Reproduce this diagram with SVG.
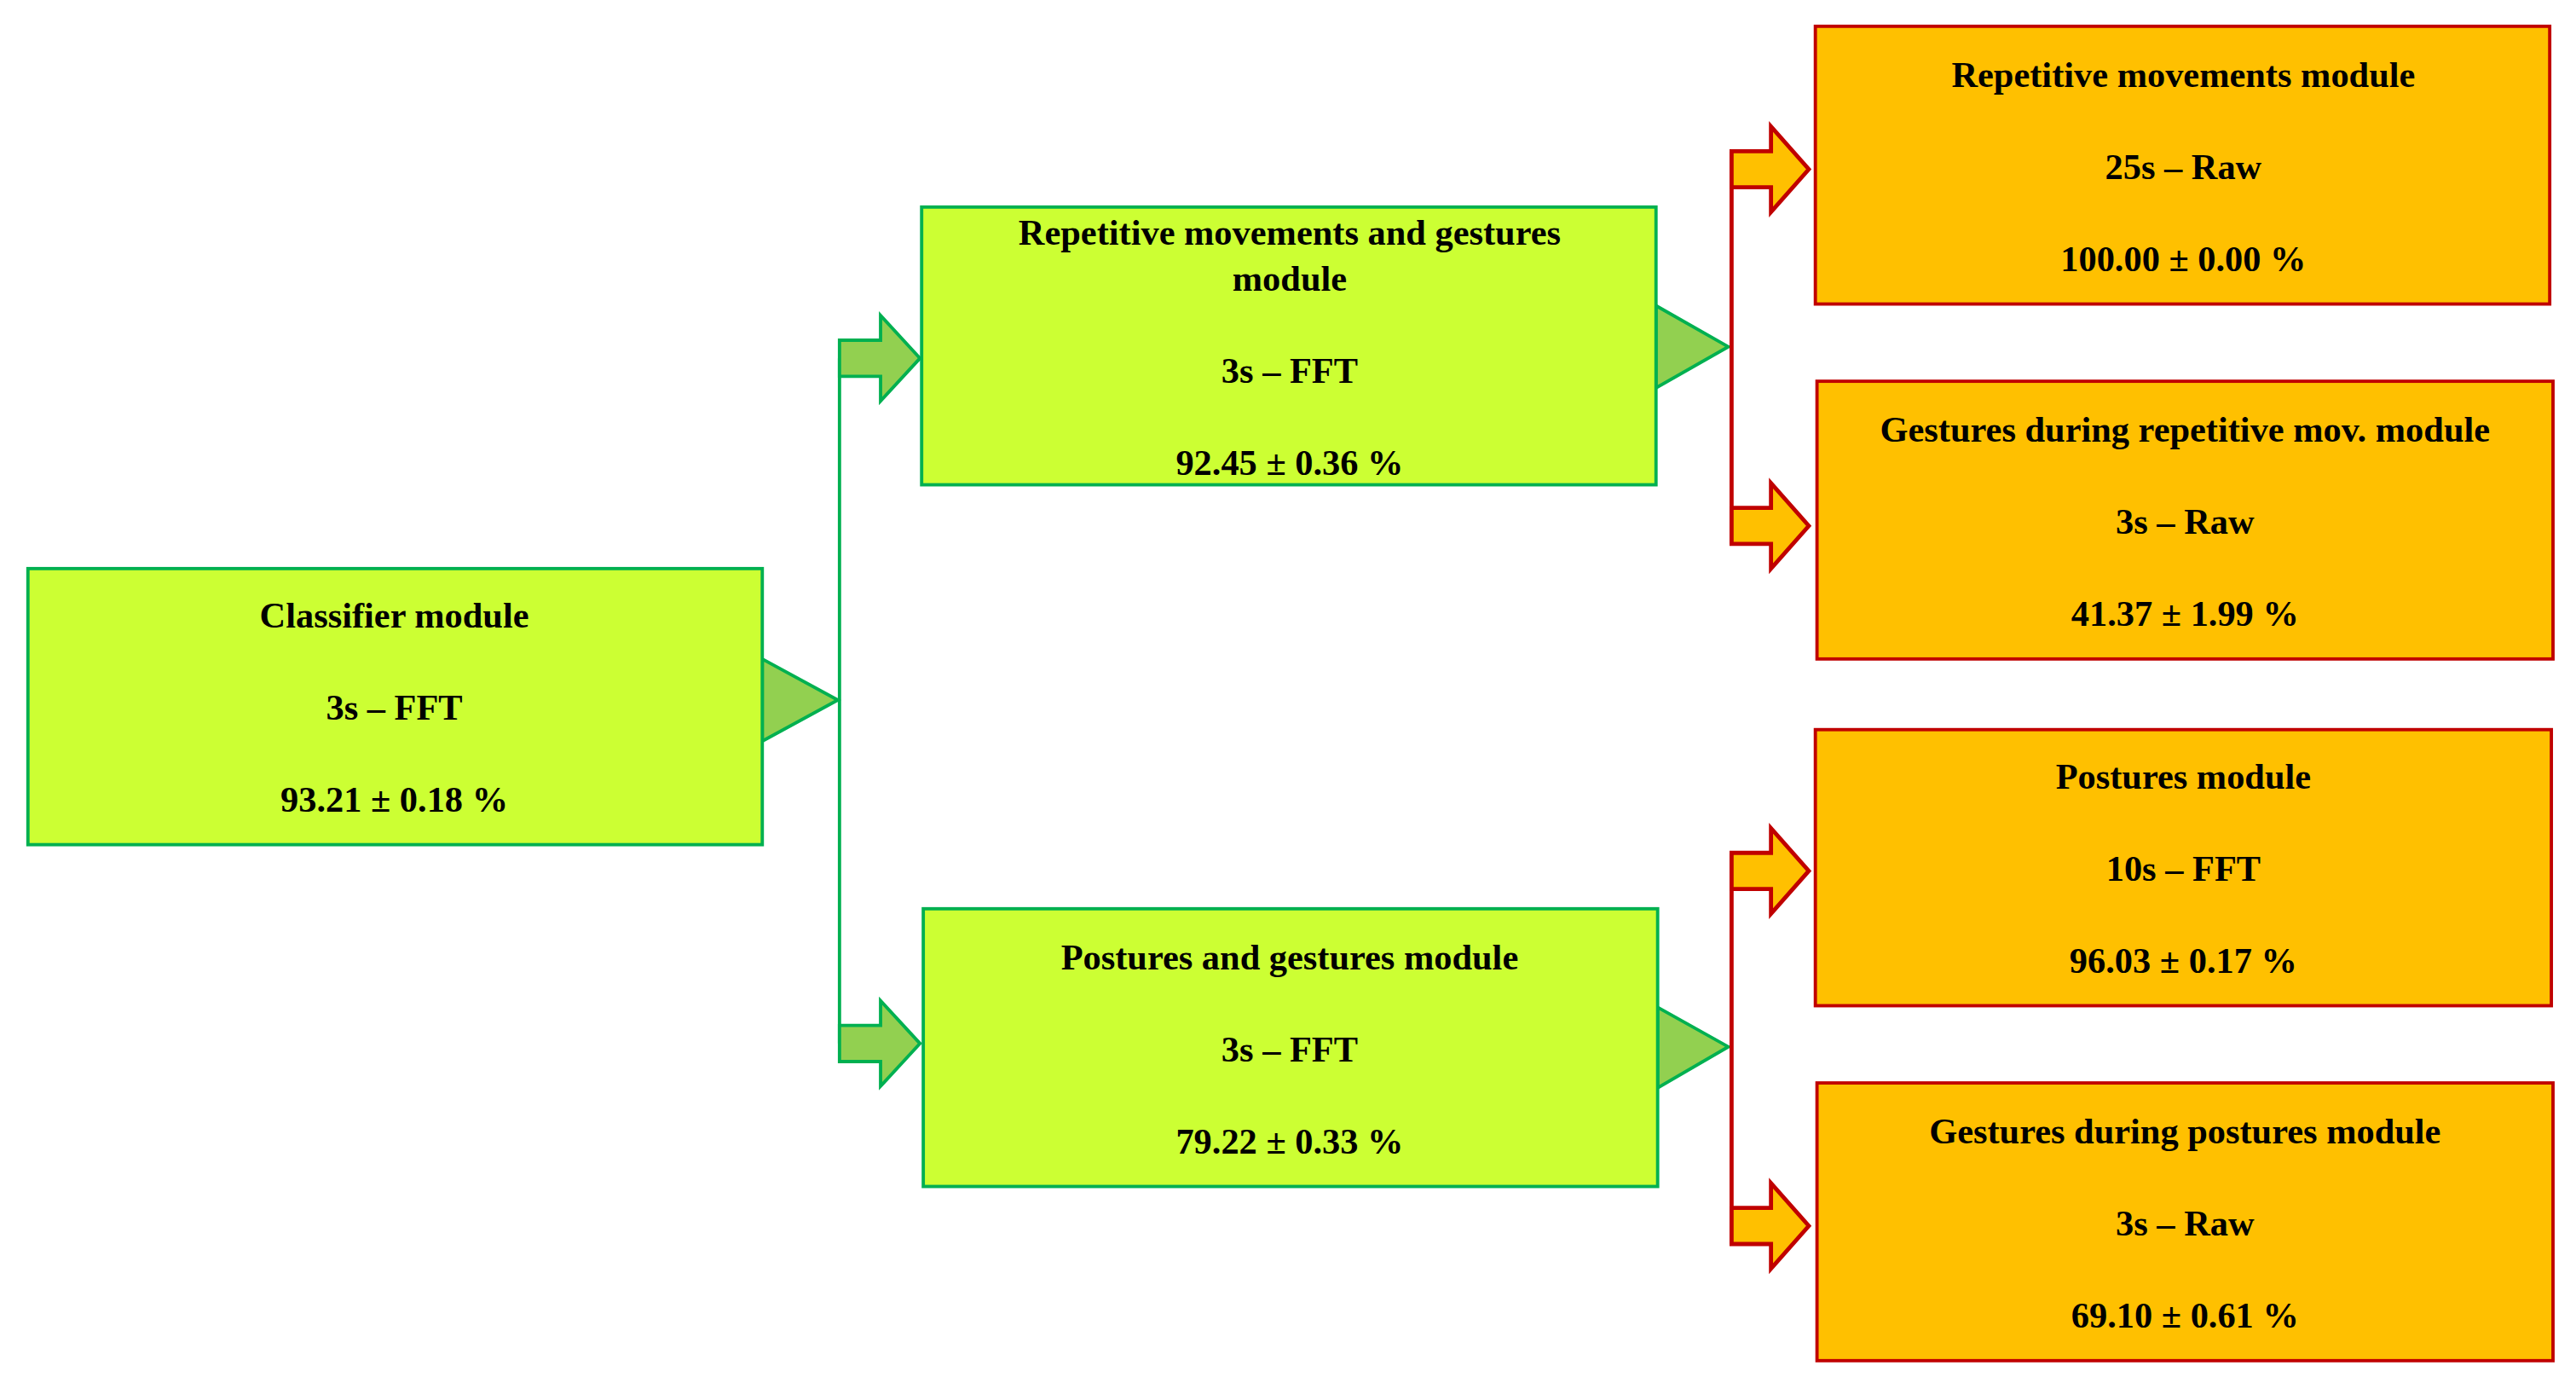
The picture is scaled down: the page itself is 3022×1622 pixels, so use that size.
<svg xmlns="http://www.w3.org/2000/svg" width="3022" height="1622" viewBox="0 0 3022 1622">
<style>
.g{fill:#CCFF33;stroke:#00B050;stroke-width:2}
.o{fill:#FFC000;stroke:#C00000;stroke-width:2}
.tri{fill:#92D050;stroke:#00B050;stroke-width:2}
.gl{fill:none;stroke:#00B050;stroke-width:2}
.ga{fill:#92D050;stroke:#00B050;stroke-width:2}
.rl{fill:none;stroke:#C00000;stroke-width:2.5}
.ra{fill:#FFC000;stroke:#C00000;stroke-width:2.5}
text{font-family:"Liberation Serif",serif;font-weight:bold;font-size:22px;fill:#000;text-anchor:middle}
</style>
<rect width="3022" height="1622" fill="#fff"/>
<g transform="scale(1.9273)">
<g id="connectors">
<path class="tri" d="M464,401 L510,426 L464,451 Z"/>
<path class="gl" d="M511,218 V635"/>
<path class="ga" d="M511,207 H536 V192 L560,218 L536,244 V229 H511 Z"/>
<path class="ga" d="M511,624 H536 V609 L560,635 L536,661 V646 H511 Z"/>
<path class="tri" d="M1008,186 L1052,211 L1008,236 Z"/>
<path class="tri" d="M1009,613 L1052,637 L1009,662 Z"/>
<path class="rl" d="M1054,92 V331"/>
<path class="rl" d="M1054,519 V757"/>
<path class="ra" d="M1054,92 H1078 V77 L1101,103 L1078,129 V114 H1054 Z"/>
<path class="ra" d="M1054,309 H1078 V294 L1101,320 L1078,346 V331 H1054 Z"/>
<path class="ra" d="M1054,519 H1078 V504 L1101,530 L1078,556 V541 H1054 Z"/>
<path class="ra" d="M1054,735 H1078 V720 L1101,746 L1078,772 V757 H1054 Z"/>
</g>
<g id="classifier"><rect class="g" x="17" y="346" width="447" height="168"/>
<text x="240" y="382">Classifier module</text><text x="240" y="438">3s – FFT</text><text x="240" y="494">93.21 ± 0.18 %</text></g>
<g id="rep-gest"><rect class="g" x="561" y="126" width="447" height="169"/>
<text x="785" y="149">Repetitive movements and gestures</text><text x="785" y="177">module</text><text x="785" y="233">3s – FFT</text><text x="785" y="289">92.45 ± 0.36 %</text></g>
<g id="post-gest"><rect class="g" x="562" y="553" width="447" height="169"/>
<text x="785" y="590">Postures and gestures module</text><text x="785" y="646">3s – FFT</text><text x="785" y="702">79.22 ± 0.33 %</text></g>
<g id="rep"><rect class="o" x="1105" y="16" width="447" height="169"/>
<text x="1329" y="53">Repetitive movements module</text><text x="1329" y="109">25s – Raw</text><text x="1329" y="165">100.00 ± 0.00 %</text></g>
<g id="gest-rep"><rect class="o" x="1106" y="232" width="448" height="169"/>
<text x="1330" y="269">Gestures during repetitive mov. module</text><text x="1330" y="325">3s – Raw</text><text x="1330" y="381">41.37 ± 1.99 %</text></g>
<g id="post"><rect class="o" x="1105" y="444" width="448" height="168"/>
<text x="1329" y="480">Postures module</text><text x="1329" y="536">10s – FFT</text><text x="1329" y="592">96.03 ± 0.17 %</text></g>
<g id="gest-post"><rect class="o" x="1106" y="659" width="448" height="169"/>
<text x="1330" y="696">Gestures during postures module</text><text x="1330" y="752">3s – Raw</text><text x="1330" y="808">69.10 ± 0.61 %</text></g>
</g>
</svg>
